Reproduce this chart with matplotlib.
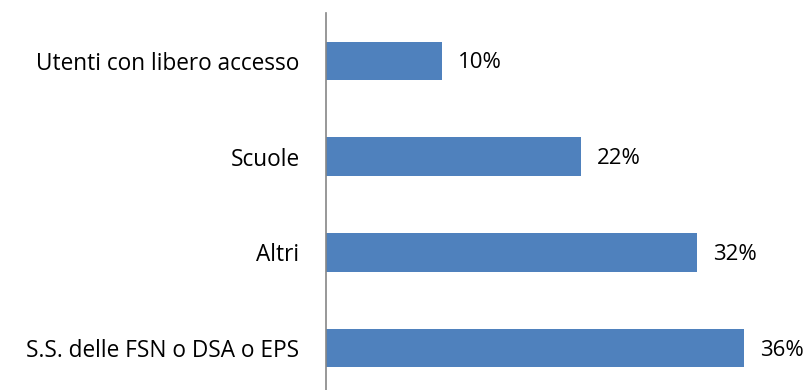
import matplotlib
matplotlib.use("Agg")
import matplotlib.pyplot as plt

categories = ["S.S. delle FSN o DSA o EPS", "Altri", "Scuole", "Utenti con libero accesso"]
values = [36, 32, 22, 10]
value_labels = ["36%", "32%", "22%", "10%"]

plt.rcParams['font.family'] = ['Open Sans', 'DejaVu Sans']

fig = plt.figure(figsize=(8.1, 3.9), dpi=100)
ax = fig.add_axes([326/810, 1 - 396/390, 464/810, 383/390])
ypos = list(range(len(categories)))
ax.barh(ypos, values, height=0.4, color="#4F81BD", edgecolor="none")
ax.set_xlim(0, 40)
ax.set_ylim(-0.5, len(categories) - 0.5)
ax.set_yticks(ypos)
ax.set_yticklabels(categories, fontsize=16.3, color="#000000")
ax.tick_params(axis="y", length=0, pad=19)
ax.set_xticks([])
for s in ["top", "right", "bottom"]:
    ax.spines[s].set_visible(False)
ax.spines["left"].set_color("#868686")
ax.spines["left"].set_linewidth(1.2)
for y, v, lab in zip(ypos, values, value_labels):
    ax.annotate(lab, (v, y), xytext=(16, -2), textcoords="offset pixels",
                va="center", ha="left", fontsize=16, color="#000000")
fig.savefig("out.png", dpi=100)
